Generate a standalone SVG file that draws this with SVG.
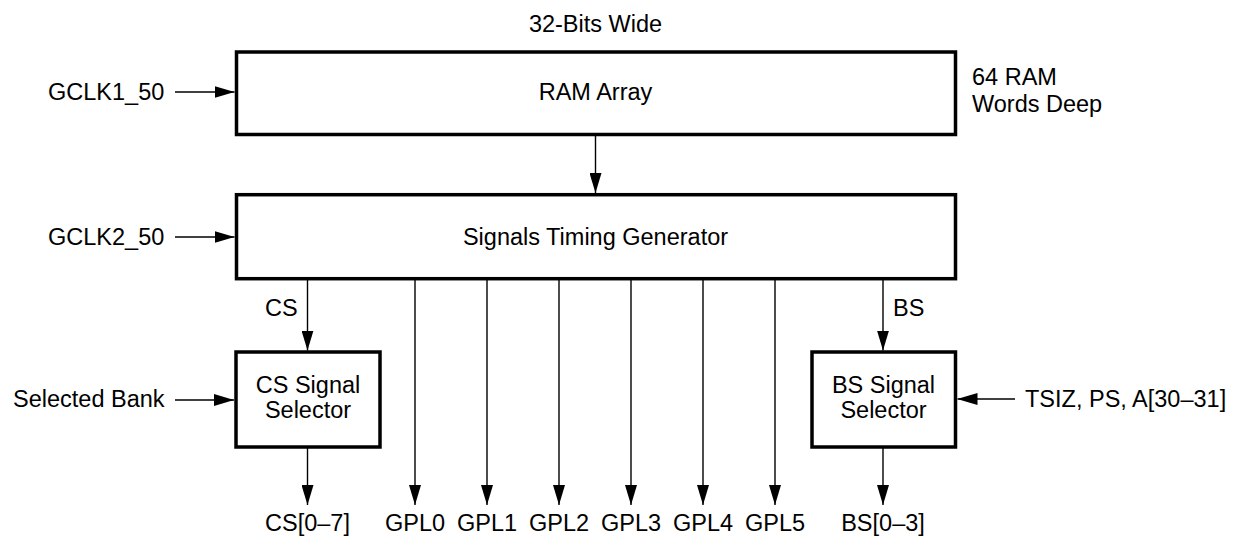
<svg xmlns="http://www.w3.org/2000/svg" width="1233" height="538" viewBox="0 0 1233 538">
<style>
text{font-family:"Liberation Sans",Arial,sans-serif;font-size:23.5px;fill:#000}
.box{fill:#fff;stroke:#000;stroke-width:3.5}
.c{text-anchor:middle}
.wire{stroke:#000;stroke-width:1.4;fill:none;marker-end:url(#ah)}
</style>
<defs>
<marker id="ah" viewBox="0 0 20 12" refX="20" refY="6" markerWidth="20" markerHeight="12" orient="auto" markerUnits="userSpaceOnUse">
<path d="M0,0 L20,6 L0,12 z" fill="#000"/>
</marker>
</defs>
<text class="c" x="595.5" y="32">32-Bits Wide</text>
<text x="972" y="85">64 RAM</text>
<text x="972" y="112">Words Deep</text>
<g id="ram">
<rect class="box" x="236.5" y="52" width="719" height="82.5"/>
<text class="c" x="595.5" y="100">RAM Array</text>
</g>
<g id="stg">
<rect class="box" x="236.5" y="194.7" width="719" height="84"/>
<text class="c" x="595.5" y="245">Signals Timing Generator</text>
</g>
<g id="cssel">
<rect class="box" x="236" y="352" width="144" height="95"/>
<text class="c" x="308" y="393">CS Signal</text>
<text class="c" x="308" y="418">Selector</text>
</g>
<g id="bssel">
<rect class="box" x="812" y="352" width="143.5" height="95"/>
<text class="c" x="883.5" y="393">BS Signal</text>
<text class="c" x="883.5" y="418">Selector</text>
</g>
<g id="connectors">
<line class="wire" x1="175" y1="92" x2="234.5" y2="92"/>
<line class="wire" x1="175" y1="237" x2="234.5" y2="237"/>
<line class="wire" x1="175" y1="400" x2="234" y2="400"/>
<line class="wire" x1="1015" y1="399" x2="957.5" y2="399"/>
<line class="wire" x1="595.5" y1="134.5" x2="595.5" y2="193"/>
<line class="wire" x1="307.5" y1="279" x2="307.5" y2="350.5"/>
<line class="wire" x1="883" y1="279" x2="883" y2="350.5"/>
<line class="wire" x1="307.5" y1="447" x2="307.5" y2="505"/>
<line class="wire" x1="883" y1="447" x2="883" y2="505"/>
<line class="wire" x1="415" y1="279" x2="415" y2="505"/>
<line class="wire" x1="487" y1="279" x2="487" y2="505"/>
<line class="wire" x1="559" y1="279" x2="559" y2="505"/>
<line class="wire" x1="631" y1="279" x2="631" y2="505"/>
<line class="wire" x1="703" y1="279" x2="703" y2="505"/>
<line class="wire" x1="775" y1="279" x2="775" y2="505"/>
</g>
<text x="48" y="100">GCLK1_50</text>
<text x="48" y="245">GCLK2_50</text>
<text x="13" y="407">Selected Bank</text>
<text x="1025" y="407">TSIZ, PS, A[30–31]</text>
<text x="265" y="316">CS</text>
<text x="893" y="316">BS</text>
<text class="c" x="307.5" y="531">CS[0–7]</text>
<text class="c" x="415" y="531">GPL0</text>
<text class="c" x="487" y="531">GPL1</text>
<text class="c" x="559" y="531">GPL2</text>
<text class="c" x="631" y="531">GPL3</text>
<text class="c" x="703" y="531">GPL4</text>
<text class="c" x="775" y="531">GPL5</text>
<text class="c" x="883" y="531">BS[0–3]</text>
</svg>
